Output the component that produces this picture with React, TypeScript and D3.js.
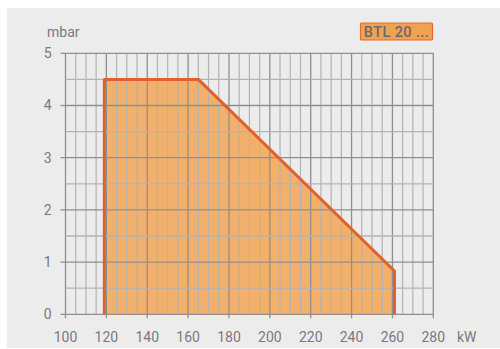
import React from "react";
import * as d3 from "d3";

const xTicks = [100, 120, 140, 160, 180, 200, 220, 240, 260, 280];
const yTicks = [0, 1, 2, 3, 4, 5];
const rangeKW = [119, 119, 165, 261, 261];
const rangeMbar = [0, 4.5, 4.5, 0.83, 0];
const legendLabel = "BTL 20 ...";
const xUnit = "kW";
const yUnit = "mbar";

export default function App() {
  const W = 500, H = 349;
  const x = d3.scaleLinear().domain([100, 280]).range([65.5, 433.3]);
  const y = d3.scaleLinear().domain([0, 5]).range([314.3, 53.3]);
  const pts: [number, number][] = rangeKW.map((k, i) => [x(k), y(rangeMbar[i])]);
  const area = d3.line()(pts) + "Z";
  const outline = d3.line()(pts);
  const minorX = d3.range(100, 280.1, 5);
  const minorY = d3.range(0, 5.01, 0.5);
  const font = "Roboto, 'DejaVu Sans Condensed', sans-serif";
  return (
    <svg width={W} height={H} style={{ position: "absolute", left: 0, top: 0 }}>
      <rect x={0} y={0} width={W} height={H} fill="#ffffff" />
      <rect x={7} y={8} width={W - 7} height={340} fill="#ececec" />
      <path d={area} fill="#f3b06b" stroke="none" />
      {minorX.map((v) => (
        <line key={"vx" + v} x1={x(v)} x2={x(v)} y1={y(0)} y2={y(5)}
          stroke={v % 20 === 0 ? "#8f8f8f" : "#b3b3b3"} strokeWidth={v % 20 === 0 ? 1.3 : 1.2} />
      ))}
      {minorY.map((v) => (
        <line key={"hy" + v} x1={x(100)} x2={x(280)} y1={y(v)} y2={y(v)}
          stroke={Math.abs(v - Math.round(v)) < 1e-6 ? "#8f8f8f" : "#b3b3b3"} strokeWidth={1.3} />
      ))}
      {yTicks.map((v) => (
        <g key={"yt" + v}>
          <line x1={x(100) - 5} x2={x(100)} y1={y(v)} y2={y(v)} stroke="#8f8f8f" strokeWidth={1.3} />
          <text x={x(100) - 14} y={y(v)} dy="0.35em" textAnchor="end" fontFamily={font} fontSize={14} fill="#7a7a7a">{v}</text>
        </g>
      ))}
      {xTicks.map((v) => (
        <g key={"xt" + v}>
          <line x1={x(v)} x2={x(v)} y1={y(0)} y2={y(0) + 4} stroke="#8f8f8f" strokeWidth={1.3} />
          <text x={x(v)} y={337} dy="0.35em" textAnchor="middle" fontFamily={font} fontSize={14} fill="#7a7a7a">{v}</text>
        </g>
      ))}
      <text x={457} y={337} dy="0.35em" fontFamily={font} fontSize={14} fill="#7a7a7a">{xUnit}</text>
      <text x={47} y={37} fontFamily={font} fontSize={14} fill="#7a7a7a">{yUnit}</text>
      <path d={outline} fill="none" stroke="#e2602b" strokeWidth={3} strokeLinejoin="round" />
      <rect x={360.5} y={23} width={72} height={17} fill="#f0a153" stroke="#e56a2d" strokeWidth={1.2} rx={1} />
      <text x={396.5} y={31.5} dy="0.36em" textAnchor="middle" fontFamily={font} fontSize={14.5} letterSpacing={0.4} fill="#6a6a6a" fontWeight={500}>{legendLabel}</text>
    </svg>
  );
}
